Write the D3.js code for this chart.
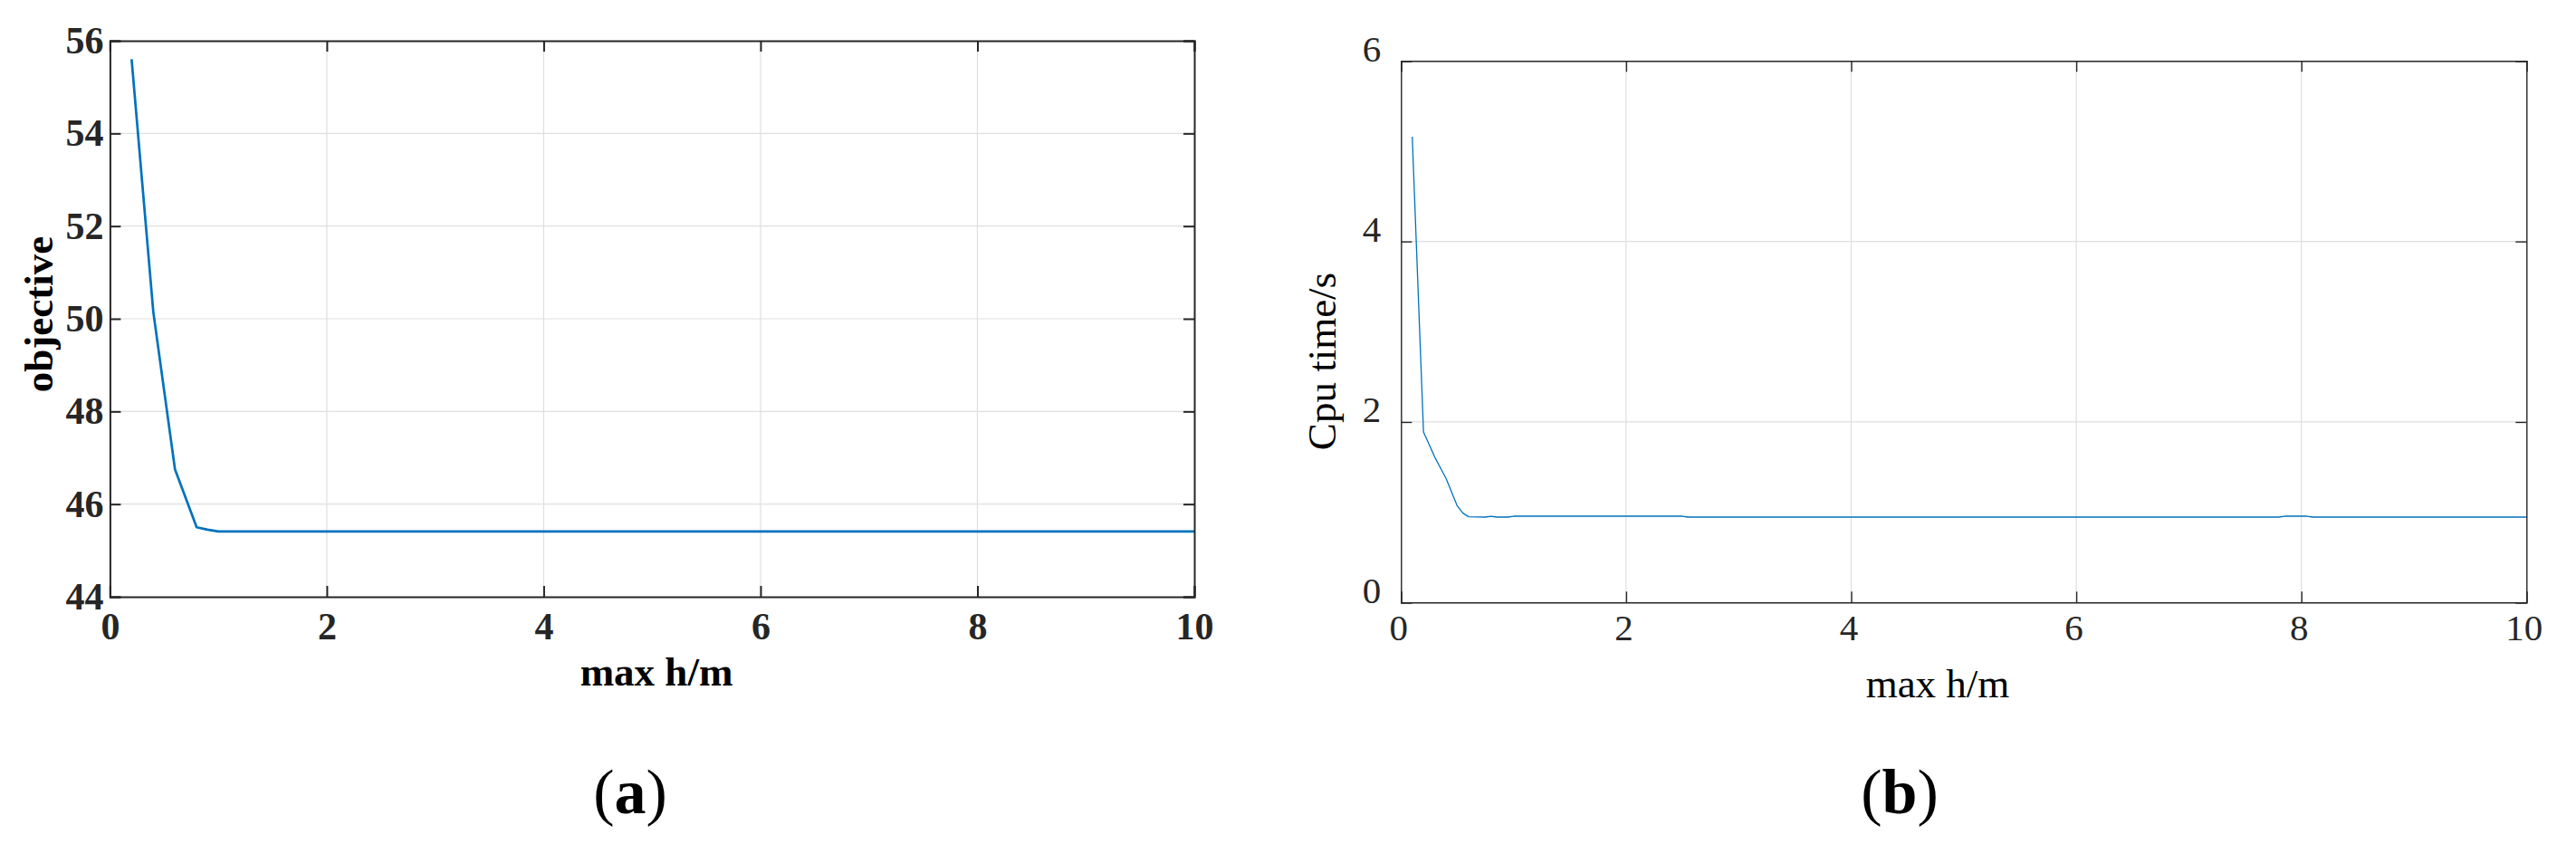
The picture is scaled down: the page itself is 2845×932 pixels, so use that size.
<!DOCTYPE html>
<meta charset="utf-8">
<script src="https://d3js.org/d3.v7.min.js"></script>
<style>
  body { margin: 0; background: #fff; }
  text { font-family: "Liberation Serif", "Times New Roman", serif; }
</style>
<body>
<div id="my_dataviz"></div>
<script>
// ---- data ----
// (a) objective vs max h/m
var objX = [0.2, 0.4, 0.6, 0.8, 0.9, 1.0, 2, 4, 6, 8, 10];
var objY = [55.6, 50.15, 46.75, 45.5, 45.45, 45.41, 45.41, 45.41, 45.41, 45.41, 45.41];

// (b) cpu time vs max h/m
var cpuX = [0.1, 0.2, 0.3, 0.4, 0.5, 0.55, 0.6, 0.75, 0.8, 0.85, 0.95, 1.0, 2.5, 2.55, 7.8, 7.85, 8.05, 8.1, 10];
var cpuY = [5.16, 1.89, 1.61, 1.375, 1.07, 0.99, 0.95, 0.946, 0.956, 0.946, 0.946, 0.956, 0.956, 0.946, 0.946, 0.956, 0.956, 0.946, 0.946];

var xTicks = [0, 2, 4, 6, 8, 10];
var objTicks = [44, 46, 48, 50, 52, 54, 56];
var cpuTicks = [0, 2, 4, 6];

var W = 2845, H = 932;
var blue = "#0072BD", axisColor = "#262626", gridColor = "#dfdfdf";

var svg = d3.select("#my_dataviz")
  .append("svg")
  .attr("width", W)
  .attr("height", H)
  .style("background", "#fff");

// draws one MATLAB-style panel
function panel(opt) {
  var x = d3.scaleLinear().domain([0, 10]).range([opt.left, opt.right]);
  var y = d3.scaleLinear().domain(opt.yDomain).range([opt.bottom, opt.top]);
  var g = svg.append("g");

  // grid
  g.selectAll(".vgrid").data(xTicks.slice(1, -1)).enter().append("line")
    .attr("x1", function(d) { return x(d); }).attr("x2", function(d) { return x(d); })
    .attr("y1", opt.top).attr("y2", opt.bottom)
    .attr("stroke", gridColor).attr("stroke-width", 1.2);
  g.selectAll(".hgrid").data(opt.yTicks.slice(1, -1)).enter().append("line")
    .attr("y1", function(d) { return y(d); }).attr("y2", function(d) { return y(d); })
    .attr("x1", opt.left).attr("x2", opt.right)
    .attr("stroke", gridColor).attr("stroke-width", 1.2);

  // the curve
  var pts = opt.xs.map(function(v, i) { return [v, opt.ys[i]]; });
  g.append("path")
    .datum(pts)
    .attr("fill", "none")
    .attr("stroke", blue)
    .attr("stroke-width", opt.lineW)
    .attr("stroke-linejoin", "round")
    .attr("d", d3.line()
      .x(function(d) { return x(d[0]); })
      .y(function(d) { return y(d[1]); }));

  var fw = opt.bold ? "bold" : "normal";

  // axes, inward ticks on all four sides
  var bottom = g.append("g")
    .attr("transform", "translate(0," + opt.bottom + ")")
    .call(d3.axisBottom(x).tickValues(xTicks).tickSize(-12).tickPadding(opt.xPad).tickFormat(d3.format("d")));
  bottom.selectAll("text").attr("dx", opt.xDx);
  var left = g.append("g")
    .attr("transform", "translate(" + opt.left + ",0)")
    .call(d3.axisLeft(y).tickValues(opt.yTicks).tickSize(-12).tickPadding(opt.yPad).tickFormat(d3.format("d")));
  left.selectAll("text").attr("dy", opt.yDy);
  g.append("g")
    .attr("transform", "translate(0," + opt.top + ")")
    .call(d3.axisTop(x).tickValues(xTicks).tickSize(-12).tickFormat(""));
  g.append("g")
    .attr("transform", "translate(" + opt.right + ",0)")
    .call(d3.axisRight(y).tickValues(opt.yTicks).tickSize(-12).tickFormat(""));

  g.selectAll(".domain, .tick line")
    .attr("stroke", axisColor)
    .attr("stroke-width", opt.boxW);
  g.selectAll(".tick text")
    .attr("fill", axisColor)
    .style("font-size", opt.tickFont + "px")
    .style("font-weight", fw)
    .style("font-family", "'Liberation Serif', 'Times New Roman', serif");

  // axis titles
  g.append("text")
    .attr("x", opt.xTitle[0]).attr("y", opt.xTitle[1])
    .attr("text-anchor", "middle")
    .style("font-size", "45px").style("font-weight", fw)
    .text("max h/m");
  g.append("text")
    .attr("transform", "translate(" + opt.yTitle[0] + "," + opt.yTitle[1] + ") rotate(-90)")
    .attr("text-anchor", "middle")
    .style("font-size", "45px").style("font-weight", fw)
    .text(opt.yLabel);

  // caption
  var cap = g.append("text")
    .attr("x", opt.caption[0]).attr("y", opt.caption[1])
    .attr("text-anchor", "middle")
    .style("font-size", "70px");
  cap.append("tspan").text("(");
  cap.append("tspan").style("font-weight", "bold").text(opt.tag);
  cap.append("tspan").text(")");
}

panel({
  left: 121.4, right: 1319, top: 45, bottom: 659,
  yDomain: [44, 56], yTicks: objTicks,
  xs: objX, ys: objY,
  lineW: 2.7, boxW: 2, bold: true, tickFont: 42,
  xPad: 17, xDx: 0, yPad: 7, yDy: "0.32em",
  xTitle: [725, 757], yTitle: [58, 347], yLabel: "objective",
  caption: [696, 898], tag: "a"
});

panel({
  left: 1547.3, right: 2790.3, top: 67.3, bottom: 665.3,
  yDomain: [0, 6], yTicks: cpuTicks,
  xs: cpuX, ys: cpuY,
  lineW: 1.3, boxW: 1.4, bold: false, tickFont: 41,
  xPad: 13, xDx: -3, yPad: 22, yDy: "0em",
  xTitle: [2140, 770], yTitle: [1475, 399], yLabel: "Cpu time/s",
  caption: [2098, 898], tag: "b"
});
</script>
</body>
